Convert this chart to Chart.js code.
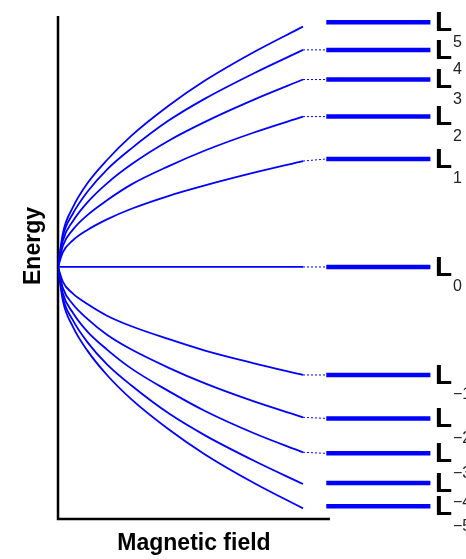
<!DOCTYPE html>
<html>
<head>
<meta charset="utf-8">
<script src="https://cdn.jsdelivr.net/npm/chart.js@4"></script>
<style>
  html, body { margin: 0; padding: 0; background: #fff; }
  canvas { display: block; }
</style>
</head>
<body>
<canvas id="chart" width="466" height="559"></canvas>
<script>
// magnetic field sample points along each curve
const fieldSamples = [0, 0.02, 0.06, 0.12, 0.2, 0.3, 0.45, 0.6, 0.8, 1.0];

// level names (subscripts) and the flat level energies on the right
const levelNames  = ['5', '4', '3', '2', '1', '0', '−1', '−2', '−3', '−4', '−5'];
const levelEnergy = [2.31, 2.05, 1.77, 1.42, 1.02, 0, -1.02, -1.43, -1.76, -2.04, -2.26];

// energies (same order as levelNames)
const curveEnergy = [
  [0, 0.32, 0.56, 0.79, 1.01, 1.24, 1.52, 1.76, 2.03, 2.27],
  [0, 0.29, 0.50, 0.71, 0.92, 1.12, 1.38, 1.59, 1.83, 2.05],
  [0, 0.25, 0.43, 0.61, 0.79, 0.97, 1.19, 1.37, 1.58, 1.77],
  [0, 0.20, 0.35, 0.49, 0.63, 0.78, 0.95, 1.10, 1.27, 1.42],
  [0, 0.14, 0.25, 0.35, 0.45, 0.55, 0.67, 0.77, 0.89, 1.00],
  [0, 0, 0, 0, 0, 0, 0, 0, 0, 0],
  [0, -0.14, -0.25, -0.35, -0.46, -0.56, -0.68, -0.79, -0.91, -1.02],
  [0, -0.20, -0.35, -0.49, -0.64, -0.78, -0.95, -1.10, -1.27, -1.42],
  [0, -0.25, -0.43, -0.61, -0.78, -0.96, -1.17, -1.36, -1.57, -1.75],
  [0, -0.29, -0.50, -0.71, -0.92, -1.12, -1.38, -1.59, -1.83, -2.05],
  [0, -0.32, -0.56, -0.79, -1.02, -1.25, -1.53, -1.77, -2.04, -2.28]
];

// which levels have a dotted joiner between curve and level bar
const hasConnector = [false, true, true, true, true, true, true, true, true, false, false];

// level bar extent in field units
const barStart = 1.095;
const barEnd = 1.52;
const axisEnd = 1.11;

const xMin = 0, xMax = 1.6;
const yMin = -2.38, yMax = 2.37;

const BLUE = 'rgb(0, 0, 255)';

const datasets = [];

// the curves
curveEnergy.forEach((vals, i) => {
  datasets.push({
    data: fieldSamples.map((b, j) => ({ x: b, y: vals[j] })),
    borderColor: BLUE,
    borderWidth: 1.8,
    pointRadius: 0,
    cubicInterpolationMode: 'monotone'
  });
});

// dotted joiners
curveEnergy.forEach((vals, i) => {
  if (!hasConnector[i]) return;
  datasets.push({
    data: [
      { x: fieldSamples[fieldSamples.length - 1], y: vals[vals.length - 1] },
      { x: barStart, y: levelEnergy[i] }
    ],
    borderColor: BLUE,
    borderWidth: 1,
    borderDash: [2, 2],
    pointRadius: 0
  });
});

// thick level bars
levelEnergy.forEach(e => {
  datasets.push({
    data: [{ x: barStart, y: e }, { x: barEnd, y: e }],
    borderColor: BLUE,
    borderWidth: 4.5,
    pointRadius: 0
  });
});

// axis lines
datasets.push({
  data: [{ x: 0, y: yMax }, { x: 0, y: yMin }, { x: axisEnd, y: yMin }],
  borderColor: '#000',
  borderWidth: 2.5,
  pointRadius: 0,
  clip: 4
});

// labels: L with subscripts, and the axis titles
const labelPlugin = {
  id: 'labels',
  afterDraw(chart) {
    const ctx = chart.ctx;
    const xs = chart.scales.x, ys = chart.scales.y;
    ctx.save();
    levelEnergy.forEach((e, i) => {
      const py = ys.getPixelForValue(e);
      ctx.fillStyle = '#000';
      ctx.font = 'bold 28px "Liberation Sans", Arial, sans-serif';
      ctx.textAlign = 'left';
      ctx.textBaseline = 'middle';
      ctx.fillText('L', 435, py + 1);
      ctx.fillStyle = '#222';
      ctx.font = '16px "Liberation Sans", Arial, sans-serif';
      ctx.textBaseline = 'top';
      ctx.fillText(levelNames[i], 453, py + 12);
    });

    ctx.fillStyle = '#000';
    ctx.font = 'bold 23px "Liberation Sans", Arial, sans-serif';
    ctx.textAlign = 'center';
    ctx.textBaseline = 'alphabetic';
    ctx.fillText('Magnetic field', xs.getPixelForValue(axisEnd / 2), 550);

    ctx.translate(40, 246);
    ctx.rotate(-Math.PI / 2);
    ctx.fillText('Energy', 0, 0);
    ctx.restore();
  }
};

new Chart(document.getElementById('chart'), {
  type: 'line',
  data: { datasets },
  options: {
    responsive: false,
    animation: false,
    layout: { padding: { left: 58, right: 16, top: 16, bottom: 40 } },
    plugins: { legend: { display: false }, tooltip: { enabled: false } },
    scales: {
      x: { type: 'linear', min: xMin, max: xMax, display: false },
      y: { type: 'linear', min: yMin, max: yMax, display: false }
    }
  },
  plugins: [labelPlugin]
});
</script>
</body>
</html>
